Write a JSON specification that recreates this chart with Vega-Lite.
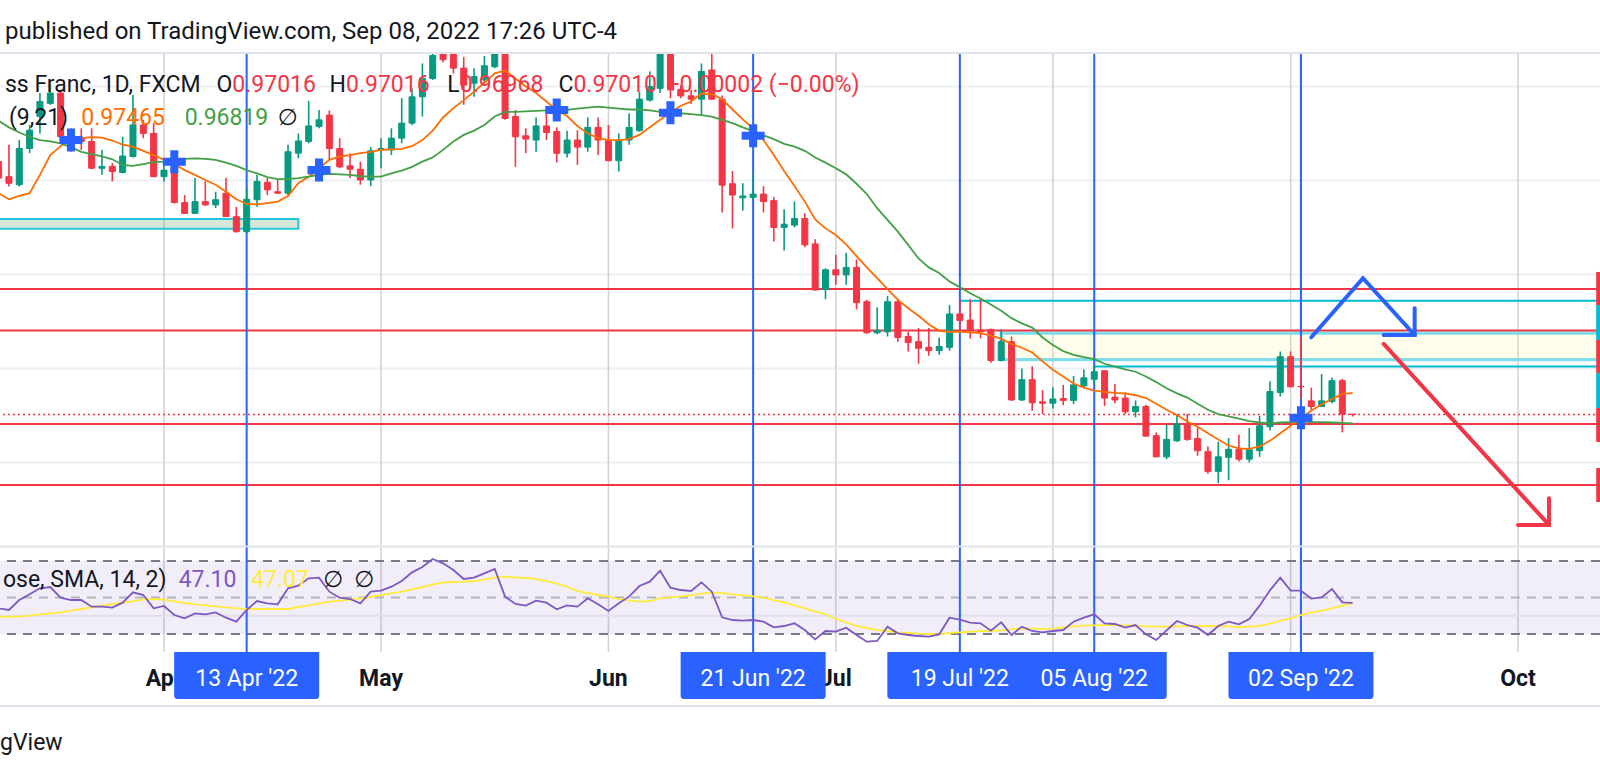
{
  "$schema": "https://vega.github.io/schema/vega-lite/v6.json",
  "description": "Euro / Swiss Franc daily candles with EMA 9/21 cross, RSI pane and drawn levels.",
  "width": 1600,
  "height": 599,
  "autosize": {"type": "none"},
  "padding": {"top": 53, "bottom": 126, "left": 0, "right": 0},
  "background": "#ffffff",
  "config": {"view": {"stroke": null}, "font": "Roboto"},
  "title": {
    "text": "published on TradingView.com, Sep 08, 2022 17:26 UTC-4",
    "anchor": "start",
    "frame": "group",
    "orient": "top",
    "offset": -4,
    "dx": 5,
    "baseline": "middle",
    "font": "Roboto",
    "fontSize": 24,
    "fontWeight": "normal",
    "color": "#131722"
  },
  "datasets": {
    "bars": [
      {"d":"2022-03-10","o":1.0239,"h":1.025,"l":1.02,"c":1.0204,"e9":1.0172,"e21":1.0326,"rsi":44.07,"ma":39.5},
      {"d":"2022-03-11","o":1.0207,"h":1.0275,"l":1.0186,"c":1.0193,"e9":1.0159,"e21":1.0312,"rsi":43.15,"ma":39.5},
      {"d":"2022-03-14","o":1.019,"h":1.0285,"l":1.0186,"c":1.0267,"e9":1.0166,"e21":1.0301,"rsi":48.63,"ma":39.5},
      {"d":"2022-03-15","o":1.0267,"h":1.0317,"l":1.0257,"c":1.0306,"e9":1.0172,"e21":1.0292,"rsi":51.74,"ma":40.05},
      {"d":"2022-03-16","o":1.0335,"h":1.0385,"l":1.0299,"c":1.0367,"e9":1.0211,"e21":1.0285,"rsi":55.03,"ma":40.78},
      {"d":"2022-03-17","o":1.0363,"h":1.0406,"l":1.036,"c":1.0385,"e9":1.0253,"e21":1.0282,"rsi":55.76,"ma":41.33},
      {"d":"2022-03-18","o":1.0385,"h":1.0392,"l":1.0278,"c":1.0292,"e9":1.0272,"e21":1.0278,"rsi":49.91,"ma":41.87},
      {"d":"2022-03-21","o":1.0296,"h":1.031,"l":1.026,"c":1.0264,"e9":1.0285,"e21":1.027,"rsi":48.63,"ma":42.79},
      {"d":"2022-03-22","o":1.0289,"h":1.031,"l":1.0264,"c":1.0282,"e9":1.0289,"e21":1.026,"rsi":48.63,"ma":43.7},
      {"d":"2022-03-23","o":1.0282,"h":1.031,"l":1.0223,"c":1.0225,"e9":1.0291,"e21":1.0255,"rsi":44.98,"ma":44.61},
      {"d":"2022-03-24","o":1.0225,"h":1.0264,"l":1.0211,"c":1.0229,"e9":1.029,"e21":1.025,"rsi":44.98,"ma":45.53},
      {"d":"2022-03-25","o":1.0229,"h":1.0236,"l":1.0197,"c":1.0218,"e9":1.0284,"e21":1.0244,"rsi":44.43,"ma":46.44},
      {"d":"2022-03-28","o":1.0216,"h":1.0292,"l":1.0214,"c":1.0251,"e9":1.0275,"e21":1.0232,"rsi":47.17,"ma":47.17},
      {"d":"2022-03-29","o":1.025,"h":1.0381,"l":1.0248,"c":1.0317,"e9":1.0271,"e21":1.023,"rsi":52.83,"ma":48.08},
      {"d":"2022-03-30","o":1.0317,"h":1.0328,"l":1.0289,"c":1.0299,"e9":1.0262,"e21":1.0234,"rsi":51.37,"ma":49.0},
      {"d":"2022-03-31","o":1.0299,"h":1.0321,"l":1.0206,"c":1.0207,"e9":1.0253,"e21":1.0238,"rsi":44.07,"ma":49.18},
      {"d":"2022-04-01","o":1.0207,"h":1.0243,"l":1.0197,"c":1.0221,"e9":1.0243,"e21":1.0239,"rsi":45.35,"ma":48.82},
      {"d":"2022-04-04","o":1.0243,"h":1.0257,"l":1.015,"c":1.0152,"e9":1.0234,"e21":1.0243,"rsi":40.41,"ma":47.9},
      {"d":"2022-04-05","o":1.0152,"h":1.0168,"l":1.0128,"c":1.0129,"e9":1.0221,"e21":1.0245,"rsi":38.59,"ma":46.99},
      {"d":"2022-04-06","o":1.0129,"h":1.0204,"l":1.0128,"c":1.0154,"e9":1.0211,"e21":1.0246,"rsi":41.33,"ma":46.26},
      {"d":"2022-04-07","o":1.0154,"h":1.0197,"l":1.0145,"c":1.0147,"e9":1.02,"e21":1.0245,"rsi":40.78,"ma":45.71},
      {"d":"2022-04-08","o":1.0147,"h":1.0175,"l":1.014,"c":1.0158,"e9":1.019,"e21":1.0243,"rsi":41.87,"ma":45.16},
      {"d":"2022-04-11","o":1.0172,"h":1.0204,"l":1.0121,"c":1.0122,"e9":1.0175,"e21":1.0237,"rsi":38.95,"ma":44.61},
      {"d":"2022-04-12","o":1.0122,"h":1.0143,"l":1.0088,"c":1.009,"e9":1.0159,"e21":1.023,"rsi":36.76,"ma":44.07},
      {"d":"2022-04-13","o":1.009,"h":1.0182,"l":1.0087,"c":1.0159,"e9":1.0149,"e21":1.0221,"rsi":43.15,"ma":43.7},
      {"d":"2022-04-14","o":1.0158,"h":1.0211,"l":1.0143,"c":1.0197,"e9":1.0148,"e21":1.0214,"rsi":48.08,"ma":43.7},
      {"d":"2022-04-15","o":1.0195,"h":1.0204,"l":1.0168,"c":1.0179,"e9":1.0151,"e21":1.0206,"rsi":46.81,"ma":43.7},
      {"d":"2022-04-18","o":1.0175,"h":1.02,"l":1.017,"c":1.0172,"e9":1.0154,"e21":1.0202,"rsi":46.26,"ma":43.7},
      {"d":"2022-04-19","o":1.0172,"h":1.0275,"l":1.0168,"c":1.026,"e9":1.0166,"e21":1.0202,"rsi":55.03,"ma":43.7},
      {"d":"2022-04-20","o":1.0257,"h":1.0299,"l":1.0246,"c":1.0283,"e9":1.0193,"e21":1.0204,"rsi":56.49,"ma":44.8},
      {"d":"2022-04-21","o":1.0282,"h":1.0368,"l":1.0278,"c":1.0315,"e9":1.0207,"e21":1.0207,"rsi":60.5,"ma":45.71},
      {"d":"2022-04-22","o":1.0314,"h":1.0349,"l":1.031,"c":1.0328,"e9":1.0225,"e21":1.0211,"rsi":60.87,"ma":46.62},
      {"d":"2022-04-25","o":1.0338,"h":1.0348,"l":1.0243,"c":1.0267,"e9":1.0243,"e21":1.0213,"rsi":53.2,"ma":47.72},
      {"d":"2022-04-26","o":1.0267,"h":1.0289,"l":1.0225,"c":1.0228,"e9":1.025,"e21":1.0212,"rsi":49.91,"ma":48.27},
      {"d":"2022-04-27","o":1.023,"h":1.0257,"l":1.0204,"c":1.0223,"e9":1.0253,"e21":1.0211,"rsi":49.18,"ma":48.82},
      {"d":"2022-04-28","o":1.0223,"h":1.0239,"l":1.019,"c":1.02,"e9":1.0257,"e21":1.0208,"rsi":46.81,"ma":49.55},
      {"d":"2022-04-29","o":1.02,"h":1.027,"l":1.0187,"c":1.0262,"e9":1.026,"e21":1.0207,"rsi":53.2,"ma":50.28},
      {"d":"2022-05-02","o":1.0264,"h":1.0289,"l":1.0225,"c":1.0267,"e9":1.0264,"e21":1.0207,"rsi":53.75,"ma":51.37},
      {"d":"2022-05-03","o":1.0264,"h":1.031,"l":1.0253,"c":1.0289,"e9":1.0265,"e21":1.0214,"rsi":55.94,"ma":52.29},
      {"d":"2022-05-04","o":1.0289,"h":1.0374,"l":1.0278,"c":1.0321,"e9":1.0266,"e21":1.022,"rsi":59.04,"ma":53.2},
      {"d":"2022-05-05","o":1.0321,"h":1.0395,"l":1.0317,"c":1.0377,"e9":1.0272,"e21":1.0228,"rsi":63.79,"ma":54.48},
      {"d":"2022-05-06","o":1.0377,"h":1.0448,"l":1.0335,"c":1.0416,"e9":1.0285,"e21":1.0239,"rsi":66.72,"ma":55.76},
      {"d":"2022-05-09","o":1.0416,"h":1.049,"l":1.0413,"c":1.0465,"e9":1.0305,"e21":1.0248,"rsi":71.1,"ma":57.22},
      {"d":"2022-05-10","o":1.0492,"h":1.051,"l":1.045,"c":1.0456,"e9":1.0333,"e21":1.0264,"rsi":68.72,"ma":58.13},
      {"d":"2022-05-11","o":1.0488,"h":1.0505,"l":1.0427,"c":1.0438,"e9":1.0353,"e21":1.0282,"rsi":65.07,"ma":58.5},
      {"d":"2022-05-12","o":1.0438,"h":1.0462,"l":1.036,"c":1.0402,"e9":1.037,"e21":1.0296,"rsi":60.14,"ma":58.68},
      {"d":"2022-05-13","o":1.0406,"h":1.0438,"l":1.0377,"c":1.042,"e9":1.0388,"e21":1.0305,"rsi":60.87,"ma":59.04},
      {"d":"2022-05-16","o":1.0413,"h":1.0464,"l":1.0406,"c":1.0443,"e9":1.0407,"e21":1.0317,"rsi":63.24,"ma":59.96},
      {"d":"2022-05-17","o":1.0441,"h":1.05,"l":1.0438,"c":1.048,"e9":1.0427,"e21":1.0335,"rsi":65.62,"ma":60.87},
      {"d":"2022-05-18","o":1.048,"h":1.0495,"l":1.0328,"c":1.0331,"e9":1.0433,"e21":1.0345,"rsi":50.46,"ma":61.42},
      {"d":"2022-05-19","o":1.0335,"h":1.0349,"l":1.0228,"c":1.0292,"e9":1.0416,"e21":1.0345,"rsi":46.44,"ma":61.05},
      {"d":"2022-05-20","o":1.0294,"h":1.031,"l":1.0257,"c":1.0287,"e9":1.0399,"e21":1.0346,"rsi":45.53,"ma":60.69},
      {"d":"2022-05-23","o":1.0285,"h":1.0333,"l":1.026,"c":1.0315,"e9":1.0385,"e21":1.0347,"rsi":48.27,"ma":60.14},
      {"d":"2022-05-24","o":1.0315,"h":1.0349,"l":1.0285,"c":1.0301,"e9":1.0367,"e21":1.0348,"rsi":47.17,"ma":59.04},
      {"d":"2022-05-25","o":1.0303,"h":1.0312,"l":1.0237,"c":1.0257,"e9":1.0349,"e21":1.0349,"rsi":43.52,"ma":57.58},
      {"d":"2022-05-26","o":1.0257,"h":1.0305,"l":1.0248,"c":1.0285,"e9":1.0336,"e21":1.0349,"rsi":45.71,"ma":55.94},
      {"d":"2022-05-27","o":1.0285,"h":1.0306,"l":1.0232,"c":1.027,"e9":1.0315,"e21":1.0352,"rsi":44.98,"ma":53.56},
      {"d":"2022-05-30","o":1.027,"h":1.0333,"l":1.026,"c":1.0312,"e9":1.0299,"e21":1.0354,"rsi":49.55,"ma":52.47},
      {"d":"2022-05-31","o":1.0312,"h":1.0333,"l":1.0253,"c":1.0285,"e9":1.0289,"e21":1.0356,"rsi":46.26,"ma":51.37},
      {"d":"2022-06-01","o":1.0285,"h":1.0317,"l":1.024,"c":1.0241,"e9":1.0285,"e21":1.0354,"rsi":42.61,"ma":50.46},
      {"d":"2022-06-02","o":1.0241,"h":1.0299,"l":1.0218,"c":1.0285,"e9":1.0285,"e21":1.0352,"rsi":46.81,"ma":49.18},
      {"d":"2022-06-03","o":1.0285,"h":1.0342,"l":1.0275,"c":1.0312,"e9":1.0287,"e21":1.035,"rsi":50.46,"ma":48.45},
      {"d":"2022-06-06","o":1.0305,"h":1.0388,"l":1.0303,"c":1.0372,"e9":1.0296,"e21":1.035,"rsi":56.3,"ma":47.72},
      {"d":"2022-06-07","o":1.037,"h":1.0431,"l":1.0367,"c":1.0399,"e9":1.0312,"e21":1.0348,"rsi":58.68,"ma":48.08},
      {"d":"2022-06-08","o":1.0395,"h":1.0495,"l":1.0385,"c":1.0475,"e9":1.0328,"e21":1.0345,"rsi":64.71,"ma":49.55},
      {"d":"2022-06-09","o":1.048,"h":1.05,"l":1.0374,"c":1.0392,"e9":1.0343,"e21":1.0343,"rsi":55.39,"ma":50.09},
      {"d":"2022-06-10","o":1.0393,"h":1.0402,"l":1.0374,"c":1.0379,"e9":1.0358,"e21":1.0342,"rsi":54.11,"ma":50.64},
      {"d":"2022-06-13","o":1.0379,"h":1.0392,"l":1.0362,"c":1.0372,"e9":1.0367,"e21":1.034,"rsi":53.56,"ma":51.19},
      {"d":"2022-06-14","o":1.0372,"h":1.0448,"l":1.0338,"c":1.0431,"e9":1.0384,"e21":1.0338,"rsi":58.31,"ma":52.1},
      {"d":"2022-06-15","o":1.0434,"h":1.047,"l":1.037,"c":1.0372,"e9":1.0383,"e21":1.0335,"rsi":53.2,"ma":52.65},
      {"d":"2022-06-16","o":1.0372,"h":1.038,"l":1.0131,"c":1.0189,"e9":1.0372,"e21":1.0328,"rsi":39.13,"ma":52.47},
      {"d":"2022-06-17","o":1.0192,"h":1.0219,"l":1.0097,"c":1.0168,"e9":1.035,"e21":1.0321,"rsi":37.67,"ma":51.74},
      {"d":"2022-06-20","o":1.0162,"h":1.0193,"l":1.0135,"c":1.0166,"e9":1.0329,"e21":1.0312,"rsi":37.31,"ma":51.19},
      {"d":"2022-06-21","o":1.0163,"h":1.0214,"l":1.0158,"c":1.017,"e9":1.031,"e21":1.0304,"rsi":37.67,"ma":50.64},
      {"d":"2022-06-22","o":1.017,"h":1.0187,"l":1.0131,"c":1.0154,"e9":1.0285,"e21":1.0295,"rsi":36.76,"ma":49.91},
      {"d":"2022-06-23","o":1.0156,"h":1.0164,"l":1.0069,"c":1.0099,"e9":1.0253,"e21":1.0287,"rsi":33.66,"ma":48.63},
      {"d":"2022-06-24","o":1.0099,"h":1.0138,"l":1.005,"c":1.0106,"e9":1.0219,"e21":1.0277,"rsi":34.39,"ma":47.35},
      {"d":"2022-06-27","o":1.0104,"h":1.0154,"l":1.0099,"c":1.0118,"e9":1.0187,"e21":1.0271,"rsi":35.85,"ma":45.71},
      {"d":"2022-06-28","o":1.0118,"h":1.0129,"l":1.0057,"c":1.0062,"e9":1.0154,"e21":1.0262,"rsi":32.19,"ma":44.07},
      {"d":"2022-06-29","o":1.0064,"h":1.0074,"l":0.9965,"c":0.9966,"e9":1.0116,"e21":1.0248,"rsi":27.08,"ma":42.42},
      {"d":"2022-06-30","o":0.9967,"h":1.0012,"l":0.9946,"c":1.0009,"e9":1.0097,"e21":1.0237,"rsi":31.65,"ma":40.78},
      {"d":"2022-07-01","o":1.0009,"h":1.0041,"l":0.9977,"c":0.9998,"e9":1.0083,"e21":1.0225,"rsi":31.28,"ma":38.22},
      {"d":"2022-07-04","o":0.9998,"h":1.0045,"l":0.9977,"c":1.0014,"e9":1.0063,"e21":1.0212,"rsi":33.47,"ma":36.4},
      {"d":"2022-07-05","o":1.0014,"h":1.0031,"l":0.9925,"c":0.9939,"e9":1.0038,"e21":1.0192,"rsi":29.45,"ma":34.39},
      {"d":"2022-07-06","o":0.9941,"h":0.9945,"l":0.9873,"c":0.9875,"e9":1.0014,"e21":1.017,"rsi":25.8,"ma":33.29},
      {"d":"2022-07-07","o":0.9875,"h":0.9929,"l":0.9872,"c":0.988,"e9":0.9991,"e21":1.014,"rsi":26.17,"ma":32.19},
      {"d":"2022-07-08","o":0.9877,"h":0.9953,"l":0.9867,"c":0.9941,"e9":0.9968,"e21":1.0115,"rsi":34.02,"ma":31.65},
      {"d":"2022-07-11","o":0.9941,"h":0.9948,"l":0.9856,"c":0.9865,"e9":0.9945,"e21":1.009,"rsi":30.37,"ma":30.92},
      {"d":"2022-07-12","o":0.9867,"h":0.9877,"l":0.9835,"c":0.9854,"e9":0.9927,"e21":1.0062,"rsi":29.45,"ma":30.55},
      {"d":"2022-07-13","o":0.9856,"h":0.9885,"l":0.9809,"c":0.9842,"e9":0.9911,"e21":1.0033,"rsi":28.91,"ma":30.19},
      {"d":"2022-07-14","o":0.9844,"h":0.9885,"l":0.9826,"c":0.9837,"e9":0.9893,"e21":1.0014,"rsi":28.54,"ma":30.0},
      {"d":"2022-07-15","o":0.9837,"h":0.9865,"l":0.9828,"c":0.9846,"e9":0.9879,"e21":1.0002,"rsi":29.82,"ma":29.82},
      {"d":"2022-07-18","o":0.9844,"h":0.9934,"l":0.9837,"c":0.9915,"e9":0.9877,"e21":0.9984,"rsi":38.95,"ma":30.55},
      {"d":"2022-07-19","o":0.9915,"h":0.9945,"l":0.9877,"c":0.9901,"e9":0.9877,"e21":0.9972,"rsi":37.86,"ma":30.92},
      {"d":"2022-07-20","o":0.9902,"h":0.9946,"l":0.9863,"c":0.988,"e9":0.9876,"e21":0.9959,"rsi":36.21,"ma":31.28},
      {"d":"2022-07-21","o":0.9881,"h":0.9948,"l":0.9863,"c":0.9877,"e9":0.9874,"e21":0.9948,"rsi":35.85,"ma":31.65},
      {"d":"2022-07-22","o":0.9882,"h":0.9884,"l":0.9811,"c":0.9816,"e9":0.9869,"e21":0.9935,"rsi":31.83,"ma":31.65},
      {"d":"2022-07-25","o":0.9816,"h":0.9882,"l":0.9814,"c":0.9856,"e9":0.9862,"e21":0.9922,"rsi":36.4,"ma":32.01},
      {"d":"2022-07-26","o":0.9856,"h":0.9867,"l":0.973,"c":0.9732,"e9":0.9851,"e21":0.9906,"rsi":29.45,"ma":32.56},
      {"d":"2022-07-27","o":0.9732,"h":0.9799,"l":0.973,"c":0.9775,"e9":0.9843,"e21":0.9895,"rsi":34.02,"ma":33.11},
      {"d":"2022-07-28","o":0.9775,"h":0.9804,"l":0.9709,"c":0.9726,"e9":0.9833,"e21":0.9886,"rsi":31.65,"ma":32.93},
      {"d":"2022-07-29","o":0.9728,"h":0.9753,"l":0.9702,"c":0.9725,"e9":0.9814,"e21":0.9865,"rsi":30.92,"ma":32.74},
      {"d":"2022-08-01","o":0.9725,"h":0.9759,"l":0.9714,"c":0.9734,"e9":0.9796,"e21":0.9849,"rsi":31.65,"ma":32.93},
      {"d":"2022-08-02","o":0.9735,"h":0.9764,"l":0.9721,"c":0.9731,"e9":0.9782,"e21":0.9836,"rsi":32.19,"ma":33.66},
      {"d":"2022-08-03","o":0.9731,"h":0.9783,"l":0.9723,"c":0.9764,"e9":0.9767,"e21":0.9828,"rsi":36.76,"ma":34.2},
      {"d":"2022-08-04","o":0.9762,"h":0.9797,"l":0.9759,"c":0.9779,"e9":0.9758,"e21":0.9823,"rsi":38.95,"ma":34.57},
      {"d":"2022-08-05","o":0.9776,"h":0.9806,"l":0.9764,"c":0.9792,"e9":0.9752,"e21":0.9819,"rsi":40.78,"ma":34.75},
      {"d":"2022-08-08","o":0.9794,"h":0.9795,"l":0.9719,"c":0.9736,"e9":0.9749,"e21":0.9809,"rsi":35.85,"ma":34.93},
      {"d":"2022-08-09","o":0.9738,"h":0.9766,"l":0.9725,"c":0.9732,"e9":0.9747,"e21":0.9803,"rsi":35.48,"ma":34.93},
      {"d":"2022-08-10","o":0.9736,"h":0.9748,"l":0.9702,"c":0.9707,"e9":0.9746,"e21":0.9797,"rsi":33.47,"ma":34.75},
      {"d":"2022-08-11","o":0.9707,"h":0.9731,"l":0.9695,"c":0.9718,"e9":0.9742,"e21":0.9792,"rsi":34.93,"ma":34.57},
      {"d":"2022-08-12","o":0.9718,"h":0.9722,"l":0.9654,"c":0.9655,"e9":0.9736,"e21":0.9782,"rsi":29.82,"ma":34.2},
      {"d":"2022-08-15","o":0.9656,"h":0.9663,"l":0.961,"c":0.9611,"e9":0.9724,"e21":0.977,"rsi":26.71,"ma":34.02},
      {"d":"2022-08-16","o":0.9611,"h":0.9679,"l":0.9606,"c":0.9648,"e9":0.9711,"e21":0.9757,"rsi":32.01,"ma":34.02},
      {"d":"2022-08-17","o":0.9645,"h":0.9702,"l":0.9643,"c":0.9681,"e9":0.97,"e21":0.9746,"rsi":37.13,"ma":34.2},
      {"d":"2022-08-18","o":0.9681,"h":0.9702,"l":0.9645,"c":0.9648,"e9":0.9686,"e21":0.9737,"rsi":34.93,"ma":34.39},
      {"d":"2022-08-19","o":0.965,"h":0.9674,"l":0.9613,"c":0.9624,"e9":0.9675,"e21":0.9724,"rsi":33.47,"ma":34.39},
      {"d":"2022-08-22","o":0.9622,"h":0.9633,"l":0.9575,"c":0.958,"e9":0.9661,"e21":0.9711,"rsi":29.45,"ma":34.39},
      {"d":"2022-08-23","o":0.958,"h":0.9643,"l":0.9555,"c":0.9611,"e9":0.9648,"e21":0.9702,"rsi":34.39,"ma":34.39},
      {"d":"2022-08-24","o":0.961,"h":0.9651,"l":0.9561,"c":0.9627,"e9":0.9635,"e21":0.9697,"rsi":36.76,"ma":34.2},
      {"d":"2022-08-25","o":0.9627,"h":0.9658,"l":0.9601,"c":0.9606,"e9":0.9629,"e21":0.9692,"rsi":35.3,"ma":33.84},
      {"d":"2022-08-26","o":0.9606,"h":0.9672,"l":0.9599,"c":0.9626,"e9":0.9628,"e21":0.9687,"rsi":38.22,"ma":34.02},
      {"d":"2022-08-29","o":0.9624,"h":0.9698,"l":0.9611,"c":0.9677,"e9":0.9633,"e21":0.9684,"rsi":45.53,"ma":34.39},
      {"d":"2022-08-30","o":0.9675,"h":0.9772,"l":0.9667,"c":0.975,"e9":0.9645,"e21":0.9682,"rsi":53.93,"ma":35.66},
      {"d":"2022-08-31","o":0.9748,"h":0.9835,"l":0.9739,"c":0.9824,"e9":0.9661,"e21":0.9684,"rsi":60.87,"ma":37.31},
      {"d":"2022-09-01","o":0.9824,"h":0.9835,"l":0.9759,"c":0.976,"e9":0.9677,"e21":0.9685,"rsi":53.75,"ma":38.59},
      {"d":"2022-09-02","o":0.9761,"h":0.9867,"l":0.9735,"c":0.976,"e9":0.9693,"e21":0.9686,"rsi":53.75,"ma":40.41},
      {"d":"2022-09-05","o":0.973,"h":0.9758,"l":0.9711,"c":0.9718,"e9":0.9709,"e21":0.9685,"rsi":49.36,"ma":41.87},
      {"d":"2022-09-06","o":0.9718,"h":0.9787,"l":0.9717,"c":0.973,"e9":0.9723,"e21":0.9685,"rsi":50.09,"ma":42.79},
      {"d":"2022-09-07","o":0.9729,"h":0.978,"l":0.9725,"c":0.9773,"e9":0.9734,"e21":0.9684,"rsi":54.66,"ma":44.07},
      {"d":"2022-09-08","o":0.9773,"h":0.9777,"l":0.9663,"c":0.9702,"e9":0.9745,"e21":0.9683,"rsi":47.35,"ma":45.53},
      {"d":"2022-09-09","o":0.97016,"h":0.97016,"l":0.96968,"c":0.9701,"e9":0.97465,"e21":0.96819,"rsi":47.1,"ma":47.07},
      {"d":"2022-09-12"},{"d":"2022-09-13"},{"d":"2022-09-14"},{"d":"2022-09-15"},{"d":"2022-09-16"},
      {"d":"2022-09-19"},{"d":"2022-09-20"},{"d":"2022-09-21"},{"d":"2022-09-22"},{"d":"2022-09-23"},
      {"d":"2022-09-26"},{"d":"2022-09-27"},{"d":"2022-09-28"},{"d":"2022-09-29"},{"d":"2022-09-30"},
      {"d":"2022-10-03"},{"d":"2022-10-04"},{"d":"2022-10-05"},{"d":"2022-10-06"},{"d":"2022-10-07"},
      {"d":"2022-10-10"},{"d":"2022-10-11"},{"d":"2022-10-12"},{"d":"2022-10-13"}
    ],
    "monthStarts": [
      {"d":"2022-04-01"},
      {"d":"2022-05-02"},
      {"d":"2022-06-01"},
      {"d":"2022-07-01"},
      {"d":"2022-08-01"},
      {"d":"2022-09-01"},
      {"d":"2022-10-03"}
    ],
    "monthLabels": [
      {"d":"2022-04-01","m":"Apr"},
      {"d":"2022-05-02","m":"May"},
      {"d":"2022-06-01","m":"Jun"},
      {"d":"2022-07-01","m":"Jul"},
      {"d":"2022-10-03","m":"Oct"}
    ],
    "marked": [
      {"d":"2022-04-13","t":"13 Apr '22"},
      {"d":"2022-06-21","t":"21 Jun '22"},
      {"d":"2022-07-19","t":"19 Jul '22"},
      {"d":"2022-08-05","t":"05 Aug '22"},
      {"d":"2022-09-02","t":"02 Sep '22"}
    ],
    "crosses": [
      {"d":"2022-03-21","p":1.0285},
      {"d":"2022-04-04","p":1.0239},
      {"d":"2022-04-22","p":1.0221},
      {"d":"2022-05-25","p":1.0349},
      {"d":"2022-06-09","p":1.0343},
      {"d":"2022-06-21","p":1.0294},
      {"d":"2022-09-02","p":0.9694}
    ],
    "legendMain": [
      {"d":"2022-03-11","t":"ss Franc, 1D, FXCM","k":"ink"},
      {"d":"2022-04-12","t":"0.97016","k":"red"},
      {"d":"2022-04-27","t":"0.97016","k":"red"},
      {"d":"2022-05-12","t":"0.96968","k":"red"},
      {"d":"2022-05-27","t":"0.97010","k":"red"},
      {"d":"2022-06-09","t":"+0.00002 (−0.00%)","k":"red"}
    ],
    "legendOhlc": [
      {"d":"2022-04-12","t":"O"},
      {"d":"2022-04-27","t":"H"},
      {"d":"2022-05-12","t":"L"},
      {"d":"2022-05-27","t":"C"}
    ],
    "legendEma": [
      {"d":"2022-03-11","t":"(9,21)","k":"ink"},
      {"d":"2022-03-22","t":"0.97465","k":"orange"},
      {"d":"2022-04-05","t":"0.96819","k":"green"},
      {"d":"2022-04-18","t":"∅","k":"ink"}
    ],
    "legendRsi": [
      {"d":"2022-03-11","t":"ose, SMA, 14, 2)","k":"ink"},
      {"d":"2022-04-05","t":"47.10","k":"purple"},
      {"d":"2022-04-14","t":"47.07","k":"yellow"},
      {"d":"2022-04-25","t":"∅","k":"ink"},
      {"d":"2022-04-28","t":"∅","k":"ink"}
    ],
    "stubs": [
      {"p":1.00043,"p2":0.9934,"k":"red"},
      {"p":0.9934,"p2":0.98596,"k":"cyan"},
      {"p":0.98596,"p2":0.97894,"k":"red"},
      {"p":0.97894,"p2":0.97149,"k":"cyan"},
      {"p":0.97149,"p2":0.96426,"k":"red"},
      {"p":0.95872,"p2":0.95149,"k":"red"}
    ]
  },
  "layer": [
    {
      "data": {"name": "monthStarts"},
      "mark": {"type": "rule", "color": "#d1d1d1", "strokeWidth": 1.5},
      "encoding": {
        "x": {"field": "d", "type": "ordinal", "scale": {"type": "point", "range": [-1.4, 1600.7], "padding": 0}, "axis": null}
      }
    },
    {
      "data": {"values": [{"lo": 30, "hi": 70}]},
      "mark": {"type": "rect", "color": "#7e57c2", "opacity": 0.1},
      "encoding": {
        "y": {"field": "hi", "type": "quantitative", "scale": {"domain": [20.14, 348.4], "zero": false, "nice": false}, "axis": null},
        "y2": {"field": "lo"}
      }
    },
    {
      "data": {"values": [{"v": 40}]},
      "mark": {"type": "rule", "color": "#e2deec", "strokeWidth": 2},
      "encoding": {
        "y": {"field": "v", "type": "quantitative", "scale": {"domain": [20.14, 348.4], "zero": false, "nice": false}, "axis": null}
      }
    },
    {
      "data": {"values": [{"v": 70}, {"v": 30}]},
      "mark": {"type": "rule", "color": "#787b86", "strokeWidth": 1.8, "strokeDash": [9, 7]},
      "encoding": {
        "y": {"field": "v", "type": "quantitative", "scale": {"domain": [20.14, 348.4], "zero": false, "nice": false}, "axis": null}
      }
    },
    {
      "data": {"values": [{"v": 50}]},
      "mark": {"type": "rule", "color": "#b2b5be", "strokeWidth": 1.8, "strokeDash": [9, 7]},
      "encoding": {
        "y": {"field": "v", "type": "quantitative", "scale": {"domain": [20.14, 348.4], "zero": false, "nice": false}, "axis": null}
      }
    },
    {
      "data": {"values": [{"d": "2022-03-10", "d2": "2022-04-20", "p": 1.0117, "p2": 1.0096}]},
      "mark": {"type": "rect", "fill": "#388e3c", "fillOpacity": 0.2, "stroke": "#26c6da", "strokeWidth": 2},
      "encoding": {
        "x": {"field": "d", "type": "ordinal", "scale": {"type": "point", "range": [-1.4, 1600.7], "padding": 0}, "axis": null},
        "x2": {"field": "d2"},
        "y": {"field": "p", "type": "quantitative", "scale": {"domain": [0.91957, 1.04702], "zero": false, "nice": false}, "axis": null},
        "y2": {"field": "p2"}
      }
    },
    {
      "data": {"values": [{"d": "2022-07-25", "d2": "2022-10-13", "p": 0.9874, "p2": 0.9818}]},
      "mark": {"type": "rect", "fill": "#ffeb3b", "fillOpacity": 0.1, "stroke": "#80deea", "strokeWidth": 3.3},
      "encoding": {
        "x": {"field": "d", "type": "ordinal", "scale": {"type": "point", "range": [-1.4, 1600.7], "padding": 0}, "axis": null},
        "x2": {"field": "d2"},
        "y": {"field": "p", "type": "quantitative", "scale": {"domain": [0.91957, 1.04702], "zero": false, "nice": false}, "axis": null},
        "y2": {"field": "p2"}
      }
    },
    {
      "data": {"values": [{"p": 0.9968}, {"p": 0.988}, {"p": 0.9681}, {"p": 0.9551}]},
      "mark": {"type": "rule", "color": "#f23645", "strokeWidth": 2},
      "encoding": {
        "y": {"field": "p", "type": "quantitative", "scale": {"domain": [0.91957, 1.04702], "zero": false, "nice": false}, "axis": null}
      }
    },
    {
      "data": {"values": [{"d": "2022-07-19", "d2": "2022-10-13", "p": 0.9943}, {"d": "2022-08-05", "d2": "2022-10-13", "p": 0.9803}]},
      "mark": {"type": "rule", "color": "#00bcd4", "strokeWidth": 2},
      "encoding": {
        "x": {"field": "d", "type": "ordinal", "scale": {"type": "point", "range": [-1.4, 1600.7], "padding": 0}, "axis": null},
        "x2": {"field": "d2"},
        "y": {"field": "p", "type": "quantitative", "scale": {"domain": [0.91957, 1.04702], "zero": false, "nice": false}, "axis": null}
      }
    },
    {
      "data": {"values": [{"p": 0.9701}]},
      "mark": {"type": "rule", "color": "#f23645", "strokeWidth": 1.6, "strokeDash": [2, 3]},
      "encoding": {
        "y": {"field": "p", "type": "quantitative", "scale": {"domain": [0.91957, 1.04702], "zero": false, "nice": false}, "axis": null}
      }
    },
    {
      "data": {"name": "marked"},
      "mark": {"type": "rule", "color": "#2962ff", "strokeWidth": 2},
      "encoding": {
        "x": {"field": "d", "type": "ordinal", "scale": {"type": "point", "range": [-1.4, 1600.7], "padding": 0}, "axis": null}
      }
    },
    {
      "data": {"name": "bars"},
      "mark": {"type": "rule", "strokeWidth": 1.6, "clip": true},
      "encoding": {
        "x": {"field": "d", "type": "ordinal", "scale": {"type": "point", "range": [-1.4, 1600.7], "padding": 0}, "axis": null},
        "y": {
          "field": "l", "type": "quantitative",
          "scale": {"domain": [0.91957, 1.04702], "zero": false, "nice": false},
          "axis": {"values": [0.96, 0.98, 1.0, 1.02, 1.04], "labels": false, "ticks": false, "domain": false, "grid": true, "gridColor": "#eceff4", "gridWidth": 2, "title": null}
        },
        "y2": {"field": "h"},
        "color": {"condition": {"test": "datum.c >= datum.o", "value": "#089981"}, "value": "#f23645"}
      }
    },
    {
      "data": {"name": "bars"},
      "mark": {"type": "bar", "width": 6, "strokeWidth": 1, "clip": true},
      "encoding": {
        "x": {"field": "d", "type": "ordinal", "scale": {"type": "point", "range": [-1.4, 1600.7], "padding": 0}, "axis": null},
        "y": {"field": "o", "type": "quantitative", "scale": {"domain": [0.91957, 1.04702], "zero": false, "nice": false}, "axis": null},
        "y2": {"field": "c"},
        "color": {"condition": {"test": "datum.c >= datum.o", "value": "#089981"}, "value": "#f23645"},
        "stroke": {"condition": {"test": "datum.c >= datum.o", "value": "#089981"}, "value": "#f23645"}
      }
    },
    {
      "data": {"name": "bars"},
      "mark": {"type": "line", "color": "#ff6d00", "strokeWidth": 1.8},
      "encoding": {
        "x": {"field": "d", "type": "ordinal", "scale": {"type": "point", "range": [-1.4, 1600.7], "padding": 0}, "axis": null},
        "y": {"field": "e9", "type": "quantitative", "scale": {"domain": [0.91957, 1.04702], "zero": false, "nice": false}, "axis": null}
      }
    },
    {
      "data": {"name": "bars"},
      "mark": {"type": "line", "color": "#43a047", "strokeWidth": 1.8},
      "encoding": {
        "x": {"field": "d", "type": "ordinal", "scale": {"type": "point", "range": [-1.4, 1600.7], "padding": 0}, "axis": null},
        "y": {"field": "e21", "type": "quantitative", "scale": {"domain": [0.91957, 1.04702], "zero": false, "nice": false}, "axis": null}
      }
    },
    {
      "data": {"name": "bars"},
      "mark": {"type": "line", "color": "#ffeb3b", "strokeWidth": 1.8},
      "encoding": {
        "x": {"field": "d", "type": "ordinal", "scale": {"type": "point", "range": [-1.4, 1600.7], "padding": 0}, "axis": null},
        "y": {"field": "ma", "type": "quantitative", "scale": {"domain": [20.14, 348.4], "zero": false, "nice": false}, "axis": null}
      }
    },
    {
      "data": {"name": "bars"},
      "mark": {"type": "line", "color": "#7e57c2", "strokeWidth": 1.8},
      "encoding": {
        "x": {"field": "d", "type": "ordinal", "scale": {"type": "point", "range": [-1.4, 1600.7], "padding": 0}, "axis": null},
        "y": {"field": "rsi", "type": "quantitative", "scale": {"domain": [20.14, 348.4], "zero": false, "nice": false}, "axis": null}
      }
    },
    {
      "data": {"name": "crosses"},
      "mark": {"type": "point", "shape": "M-1,-0.35H-0.35V-1H0.35V-0.35H1V0.35H0.35V1H-0.35V0.35H-1Z", "size": 529, "filled": true, "opacity": 1, "color": "#2962ff"},
      "encoding": {
        "x": {"field": "d", "type": "ordinal", "scale": {"type": "point", "range": [-1.4, 1600.7], "padding": 0}, "axis": null},
        "y": {"field": "p", "type": "quantitative", "scale": {"domain": [0.91957, 1.04702], "zero": false, "nice": false}, "axis": null}
      }
    },
    {
      "data": {"values": [
        {"g": "a", "s": 1, "d": "2022-09-05", "p": 0.98653},
        {"g": "a", "s": 2, "d": "2022-09-12", "p": 0.99909},
        {"g": "a", "s": 3, "d": "2022-09-19", "p": 0.98702},
        {"g": "h", "s": 1, "d": "2022-09-14", "p": 0.98702},
        {"g": "h", "s": 2, "d": "2022-09-19", "p": 0.98702},
        {"g": "h", "s": 3, "d": "2022-09-19", "p": 0.9927}
      ]},
      "mark": {"type": "line", "color": "#2962ff", "strokeWidth": 4, "strokeCap": "round", "strokeJoin": "miter"},
      "encoding": {
        "x": {"field": "d", "type": "ordinal", "scale": {"type": "point", "range": [-1.4, 1600.7], "padding": 0}, "axis": null},
        "y": {"field": "p", "type": "quantitative", "scale": {"domain": [0.91957, 1.04702], "zero": false, "nice": false}, "axis": null},
        "detail": {"field": "g"},
        "order": {"field": "s"}
      }
    },
    {
      "data": {"values": [
        {"g": "a", "s": 1, "d": "2022-09-14", "p": 0.98511},
        {"g": "a", "s": 2, "d": "2022-10-06", "p": 0.9466},
        {"g": "h", "s": 1, "d": "2022-10-03", "p": 0.9466},
        {"g": "h", "s": 2, "d": "2022-10-06", "p": 0.9466},
        {"g": "h", "s": 3, "d": "2022-10-06", "p": 0.95228}
      ]},
      "mark": {"type": "line", "color": "#f23645", "strokeWidth": 4, "strokeCap": "round", "strokeJoin": "miter"},
      "encoding": {
        "x": {"field": "d", "type": "ordinal", "scale": {"type": "point", "range": [-1.4, 1600.7], "padding": 0}, "axis": null},
        "y": {"field": "p", "type": "quantitative", "scale": {"domain": [0.91957, 1.04702], "zero": false, "nice": false}, "axis": null},
        "detail": {"field": "g"},
        "order": {"field": "s"}
      }
    },
    {
      "data": {"values": [{"p": 1.047}, {"p": 0.94202}]},
      "mark": {"type": "rule", "color": "#e0e3eb", "strokeWidth": 2},
      "encoding": {
        "y": {"field": "p", "type": "quantitative", "scale": {"domain": [0.91957, 1.04702], "zero": false, "nice": false}, "axis": null}
      }
    },
    {
      "data": {"values": [{"v": -9.45}]},
      "mark": {"type": "rule", "color": "#e0e3eb", "strokeWidth": 2},
      "encoding": {
        "y": {"field": "v", "type": "quantitative", "scale": {"domain": [20.14, 348.4], "zero": false, "nice": false}, "axis": null}
      }
    },
    {
      "data": {"name": "legendMain"},
      "mark": {"type": "text", "align": "left", "baseline": "middle", "dx": -4, "font": "Roboto, DejaVu Sans", "fontSize": 23},
      "encoding": {
        "x": {"field": "d", "type": "ordinal", "scale": {"type": "point", "range": [-1.4, 1600.7], "padding": 0}, "axis": null},
        "y": {"datum": 1.04021, "type": "quantitative", "scale": {"domain": [0.91957, 1.04702], "zero": false, "nice": false}, "axis": null},
        "text": {"field": "t"},
        "color": {"field": "k", "type": "nominal", "scale": {"domain": ["ink", "red", "orange", "green", "purple", "yellow"], "range": ["#131722", "#f23645", "#ff6d00", "#43a047", "#7e57c2", "#ffeb3b"]}, "legend": null}
      }
    },
    {
      "data": {"name": "legendOhlc"},
      "mark": {"type": "text", "align": "right", "baseline": "middle", "dx": -4, "font": "Roboto", "fontSize": 23, "color": "#131722"},
      "encoding": {
        "x": {"field": "d", "type": "ordinal", "scale": {"type": "point", "range": [-1.4, 1600.7], "padding": 0}, "axis": null},
        "y": {"datum": 1.04021, "type": "quantitative", "scale": {"domain": [0.91957, 1.04702], "zero": false, "nice": false}, "axis": null},
        "text": {"field": "t"}
      }
    },
    {
      "data": {"name": "legendEma"},
      "mark": {"type": "text", "align": "left", "baseline": "middle", "font": "Roboto, DejaVu Sans", "fontSize": 23},
      "encoding": {
        "x": {"field": "d", "type": "ordinal", "scale": {"type": "point", "range": [-1.4, 1600.7], "padding": 0}, "axis": null},
        "y": {"datum": 1.03319, "type": "quantitative", "scale": {"domain": [0.91957, 1.04702], "zero": false, "nice": false}, "axis": null},
        "text": {"field": "t"},
        "color": {"field": "k", "type": "nominal", "scale": {"domain": ["ink", "red", "orange", "green", "purple", "yellow"], "range": ["#131722", "#f23645", "#ff6d00", "#43a047", "#7e57c2", "#ffeb3b"]}, "legend": null}
      }
    },
    {
      "data": {"name": "legendRsi"},
      "mark": {"type": "text", "align": "left", "baseline": "middle", "dx": -6, "font": "Roboto, DejaVu Sans", "fontSize": 23},
      "encoding": {
        "x": {"field": "d", "type": "ordinal", "scale": {"type": "point", "range": [-1.4, 1600.7], "padding": 0}, "axis": null},
        "y": {"datum": 59.59, "type": "quantitative", "scale": {"domain": [20.14, 348.4], "zero": false, "nice": false}, "axis": null},
        "text": {"field": "t"},
        "color": {"field": "k", "type": "nominal", "scale": {"domain": ["ink", "red", "orange", "green", "purple", "yellow"], "range": ["#131722", "#f23645", "#ff6d00", "#43a047", "#7e57c2", "#ffeb3b"]}, "legend": null}
      }
    },
    {
      "data": {"name": "monthLabels"},
      "mark": {"type": "text", "align": "center", "baseline": "middle", "font": "Roboto", "fontSize": 23, "fontWeight": "bold", "color": "#131722"},
      "encoding": {
        "x": {"field": "d", "type": "ordinal", "scale": {"type": "point", "range": [-1.4, 1600.7], "padding": 0}, "axis": null},
        "y": {"datum": 5.34, "type": "quantitative", "scale": {"domain": [20.14, 348.4], "zero": false, "nice": false}, "axis": null},
        "text": {"field": "m"}
      }
    },
    {
      "data": {"values": [{"d": "2022-03-10", "t": "gView"}]},
      "mark": {"type": "text", "align": "left", "baseline": "middle", "dx": 1.4, "font": "Roboto", "fontSize": 23, "color": "#131722"},
      "encoding": {
        "x": {"field": "d", "type": "ordinal", "scale": {"type": "point", "range": [-1.4, 1600.7], "padding": 0}, "axis": null},
        "y": {"datum": -29.73, "type": "quantitative", "scale": {"domain": [20.14, 348.4], "zero": false, "nice": false}, "axis": null},
        "text": {"field": "t"}
      }
    },
    {
      "data": {"name": "marked"},
      "mark": {"type": "bar", "width": 145, "color": "#2962ff", "cornerRadiusBottomLeft": 3, "cornerRadiusBottomRight": 3},
      "encoding": {
        "x": {"field": "d", "type": "ordinal", "scale": {"type": "point", "range": [-1.4, 1600.7], "padding": 0}, "axis": null},
        "y": {"datum": 20.14, "type": "quantitative", "scale": {"domain": [20.14, 348.4], "zero": false, "nice": false}, "axis": null},
        "y2": {"datum": -5.62}
      }
    },
    {
      "data": {"name": "marked"},
      "mark": {"type": "text", "align": "center", "baseline": "middle", "font": "Roboto", "fontSize": 23, "color": "#ffffff"},
      "encoding": {
        "x": {"field": "d", "type": "ordinal", "scale": {"type": "point", "range": [-1.4, 1600.7], "padding": 0}, "axis": null},
        "y": {"datum": 5.34, "type": "quantitative", "scale": {"domain": [20.14, 348.4], "zero": false, "nice": false}, "axis": null},
        "text": {"field": "t"}
      }
    },
    {
      "data": {"name": "stubs"},
      "mark": {"type": "bar", "width": 9},
      "encoding": {
        "x": {"datum": "2022-10-13", "type": "ordinal", "scale": {"type": "point", "range": [-1.4, 1600.7], "padding": 0}, "axis": null},
        "y": {"field": "p", "type": "quantitative", "scale": {"domain": [0.91957, 1.04702], "zero": false, "nice": false}, "axis": null},
        "y2": {"field": "p2"},
        "color": {"field": "k", "type": "nominal", "scale": {"domain": ["red", "cyan"], "range": ["#f23645", "#00bcd4"]}, "legend": null}
      }
    }
  ],
  "resolve": {"scale": {"y": "independent", "color": "independent"}}
}
